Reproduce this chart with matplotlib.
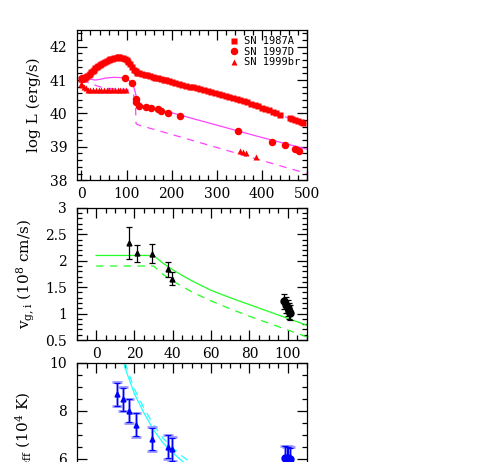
import matplotlib
matplotlib.use('Agg')
import matplotlib.pyplot as plt
from matplotlib.ticker import MultipleLocator, FormatStrFormatter

plt.rcParams['font.family'] = ['DejaVu Serif']
plt.rcParams['mathtext.fontset'] = 'dejavuserif'

# ---- top panel: bolometric light curves ----
t_87a = [0, 2, 4, 6, 8, 10, 13, 16, 19, 22, 25, 28, 31, 34, 37, 40, 44, 48, 52, 56,
         60, 64, 68, 72, 76, 80, 84, 88, 92, 96, 100, 104, 108, 112, 116, 120, 124, 128,
         134, 140, 146, 152, 158, 164, 170, 176, 182, 188, 194, 200, 208, 216, 224, 232,
         240, 248, 256, 264, 272, 280, 288, 296, 304, 312, 320, 328, 336, 344, 352, 360,
         368, 376, 384, 392, 400, 408, 416, 424, 432, 440, 462, 468, 474, 480, 486, 492]
L_87a = [41.02, 41.03, 41.04, 41.05, 41.06, 41.08, 41.11, 41.15, 41.19, 41.23, 41.27, 41.31,
         41.35, 41.39, 41.42, 41.45, 41.49, 41.52, 41.55, 41.58, 41.60, 41.62, 41.64, 41.66,
         41.67, 41.68, 41.68, 41.67, 41.66, 41.64, 41.60, 41.55, 41.47, 41.39, 41.31, 41.26,
         41.22, 41.20, 41.18, 41.16, 41.14, 41.12, 41.10, 41.07, 41.05, 41.03, 41.01, 40.99,
         40.97, 40.95, 40.92, 40.89, 40.86, 40.83, 40.80, 40.78, 40.75, 40.72, 40.69, 40.66,
         40.63, 40.60, 40.57, 40.54, 40.51, 40.48, 40.45, 40.42, 40.39, 40.36, 40.33, 40.29,
         40.25, 40.21, 40.17, 40.13, 40.09, 40.05, 40.01, 39.96, 39.85, 39.82, 39.79, 39.76,
         39.73, 39.70]

t_97d = [1, 5, 96, 112, 120, 121.5, 127, 144, 155, 170, 176, 192, 218, 347, 423, 451, 473, 483]
L_97d = [41.05, 41.07, 41.06, 40.92, 40.42, 40.35, 40.22, 40.20, 40.15, 40.12, 40.07, 40.02,
         39.92, 39.47, 39.15, 39.05, 38.93, 38.88]

t_99br = [0, 2, 5, 9, 15, 20, 26, 32, 38, 44, 50, 56, 62, 68, 74, 80, 86, 92, 99, 352, 358, 364, 387]
L_99br = [40.88, 40.86, 40.80, 40.75, 40.71, 40.70, 40.70, 40.70, 40.71, 40.70, 40.70, 40.71,
          40.70, 40.70, 40.69, 40.70, 40.70, 40.69, 40.70, 38.88, 38.84, 38.80, 38.68]

# models
t_m1 = [0, 10, 20, 30, 40, 50, 60, 70, 80, 90, 100, 106, 112, 116, 120, 123, 126, 130, 200, 300, 400, 500]
L_m1 = [41.10, 41.07, 41.03, 41.00, 41.02, 41.05, 41.07, 41.08, 41.08, 41.07, 41.03, 40.98,
        40.90, 40.80, 40.60, 40.40, 40.30, 40.25, 40.02, 39.65, 39.28, 38.93]
t_m2 = [0, 10, 20, 30, 40, 60, 80, 100, 110, 116, 120, 121, 125, 200, 300, 400, 500]
L_m2 = [40.98, 40.95, 40.90, 40.85, 40.80, 40.75, 40.73, 40.72, 40.66, 40.55, 40.20, 39.70,
        39.66, 39.37, 38.98, 38.59, 38.20]
t_m3 = [0, 20, 40, 60, 80, 95, 105, 112, 118, 124, 130, 140, 200, 300, 400, 500]
L_m3 = [41.00, 41.15, 41.42, 41.60, 41.67, 41.66, 41.60, 41.50, 41.38, 41.27, 41.20, 41.16,
        40.95, 40.60, 40.17, 39.65]

# ---- middle panel: velocities ----
t_v = [17.2, 21.2, 29.0, 37.3, 39.5]
v = [2.33, 2.14, 2.13, 1.84, 1.66]
v_err = [0.30, 0.16, 0.18, 0.14, 0.12]
t_v2 = [98.2, 99.0, 99.9, 100.8, 101.2]
v2 = [1.23, 1.17, 1.10, 1.05, 1.02]
v2_err = [0.15, 0.15, 0.15, 0.15, 0.15]

t_vm = [0, 30, 35, 40, 45, 50, 60, 70, 80, 90, 100, 110]
v_m1 = [2.10, 2.10, 1.95, 1.83, 1.72, 1.62, 1.44, 1.30, 1.17, 1.04, 0.91, 0.78]
v_m2 = [1.90, 1.90, 1.74, 1.62, 1.51, 1.41, 1.24, 1.09, 0.95, 0.82, 0.69, 0.56]

# ---- bottom panel: temperatures ----
t_T = [11.1, 14.1, 17.2, 21.0, 29.0, 37.3, 39.5]
T = [8.69, 8.48, 8.00, 7.42, 6.82, 6.51, 6.40]
t_T2 = [98.8, 99.6, 100.4, 101.0]
T2 = [6.05, 6.00, 6.02, 5.98]
T_err = 0.5

t_Tm = [8, 10, 12, 15, 20, 25, 30, 35, 40, 45, 50, 60, 70, 80, 90, 100, 110]
T_m1 = [12.5, 11.6, 10.8, 9.8, 8.7, 7.9, 7.2, 6.65, 6.25, 5.9, 5.6, 5.1, 4.75, 4.5, 4.3, 4.15, 4.0]
T_m2 = [12.8, 11.9, 11.0, 10.0, 8.9, 8.1, 7.4, 6.85, 6.45, 6.1, 5.8, 5.3, 4.95, 4.7, 4.5, 4.35, 4.2]

fig = plt.figure(figsize=(4.81, 4.62), dpi=100)
ax1 = fig.add_axes([0.160, 0.610, 0.478, 0.325])
ax2 = fig.add_axes([0.160, 0.264, 0.478, 0.286])
ax3 = fig.add_axes([0.160, -0.097, 0.478, 0.312])


def style(ax):
    ax.tick_params(which='both', direction='in', top=True, right=True, width=0.9, labelsize=10)
    ax.tick_params(which='major', length=7)
    ax.tick_params(which='minor', length=3.5)
    ax.tick_params(axis='x', pad=5)
    ax.tick_params(axis='y', pad=7)
    ax.yaxis.set_major_formatter(FormatStrFormatter('%g'))
    for s in ax.spines.values():
        s.set_linewidth(0.9)


# top
mag = '#ff44ff'
ax1.plot(t_m3, L_m3, color=mag, lw=0.8, ls='-.')
ax1.plot(t_m1, L_m1, color=mag, lw=0.9)
ax1.plot(t_m2, L_m2, color=mag, lw=0.9, ls=(0, (6, 5)))
ax1.plot(t_87a, L_87a, 's', color='red', ms=4.3, mec='none', label='SN 1987A')
ax1.plot(t_97d, L_97d, 'o', color='red', ms=5.4, mec='none', label='SN 1997D')
ax1.plot(t_99br, L_99br, '^', color='red', ms=3.8, mec='none', label='SN 1999br')
ax1.set_xlim(-10, 500)
ax1.set_ylim(38, 42.5)
ax1.xaxis.set_major_locator(MultipleLocator(100))
ax1.xaxis.set_minor_locator(MultipleLocator(20))
ax1.yaxis.set_major_locator(MultipleLocator(1))
ax1.yaxis.set_minor_locator(MultipleLocator(0.2))
ax1.set_ylabel('log L (erg/s)', fontsize=11, labelpad=6)
ax1.legend(loc='upper right', frameon=False, fontsize=7.5, handlelength=1.0,
           handletextpad=0.5, labelspacing=0.05, borderaxespad=0.4, borderpad=0.2,
           prop={'family': 'DejaVu Sans Mono', 'size': 7.5})
style(ax1)

# middle
green = '#22ff22'
ax2.plot(t_vm, v_m1, color=green, lw=0.9)
ax2.plot(t_vm, v_m2, color=green, lw=0.9, ls=(0, (6, 5)))
ax2.errorbar(t_v, v, yerr=v_err, fmt='^', color='k', ms=3.5, capsize=2.5, elinewidth=0.9, capthick=0.9)
ax2.errorbar(t_v2, v2, yerr=v2_err, fmt='o', color='k', ms=5, capsize=2.5, elinewidth=0.9, capthick=0.9)
ax2.set_xlim(-10, 110)
ax2.set_ylim(0.5, 3)
ax2.xaxis.set_major_locator(MultipleLocator(20))
ax2.xaxis.set_minor_locator(MultipleLocator(5))
ax2.yaxis.set_major_locator(MultipleLocator(0.5))
ax2.yaxis.set_minor_locator(MultipleLocator(0.1))
ax2.set_ylabel('v$_{\\rm g,i}$ (10$^8$ cm/s)', fontsize=11, labelpad=6)
style(ax2)

# bottom
cyan = '#22ffff'
ax3.plot(t_Tm, T_m1, color=cyan, lw=0.9)
ax3.plot(t_Tm, T_m2, color=cyan, lw=0.9, ls=(0, (6, 5)))
ax3.errorbar(t_T, T, yerr=T_err, fmt='none', ecolor='#9999ff', capsize=3.5, elinewidth=2, capthick=2)
ax3.errorbar(t_T, T, yerr=T_err * 0.95, fmt='^', color='#0000ff', ms=3.5, capsize=2.5,
             elinewidth=0.9, capthick=0.9)
ax3.errorbar(t_T2, T2, yerr=T_err, fmt='none', ecolor='#9999ff', capsize=3.5, elinewidth=2, capthick=2)
ax3.errorbar(t_T2, T2, yerr=T_err * 0.95, fmt='o', color='#0000ff', ms=5, capsize=2.5,
             elinewidth=0.9, capthick=0.9)
ax3.set_xlim(-10, 110)
ax3.set_ylim(4, 10)
ax3.xaxis.set_major_locator(MultipleLocator(20))
ax3.xaxis.set_minor_locator(MultipleLocator(5))
ax3.yaxis.set_major_locator(MultipleLocator(2))
ax3.yaxis.set_minor_locator(MultipleLocator(0.5))
ax3.set_ylabel('T$_{\\rm eff}$ (10$^4$ K)', fontsize=11, labelpad=12)
style(ax3)
ax3.tick_params(axis='x', labelbottom=False)

fig.savefig('out.png', dpi=100)
